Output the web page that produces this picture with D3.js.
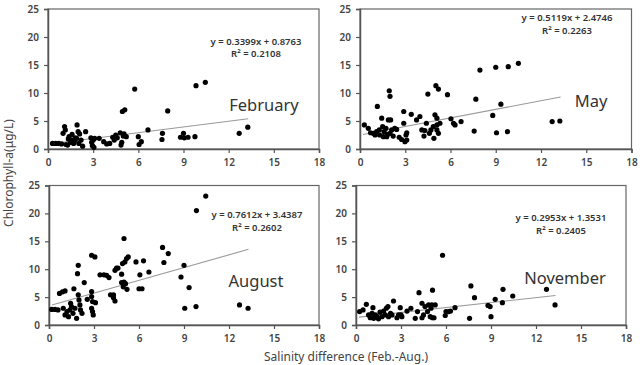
<!DOCTYPE html>
<html>
<head>
<meta charset="utf-8">
<script src="https://cdn.jsdelivr.net/npm/d3@7"></script>
<style>
  body { margin: 0; background: #fff; }
  svg { display: block; }
  text { font-family: "Noto Sans", sans-serif; }
</style>
</head>
<body>
<svg id="chart" width="640" height="365"></svg>
<script>
// data
const months = ["February", "May", "August", "November"]
const slopes = [0.3399, 0.5119, 0.7612, 0.2953]
const intercepts = [0.8763, 2.4746, 3.4387, 1.3531]
const rSquared = ["0.2108", "0.2263", "0.2602", "0.2405"]
const fitRange = [0.2, 13.3]
const xTicks = [0, 3, 6, 9, 12, 15, 18]
const yTicks = [0, 5, 10, 15, 20, 25]

const febPoints = [
  [0.3,1.0],[0.5,1.0],[0.7,1.0],[0.9,0.9],[1.0,2.8],[1.1,4.0],[1.15,3.4],[1.2,0.8],
  [1.3,0.7],[1.35,1.8],[1.4,2.2],[1.5,1.2],[1.55,1.6],[1.6,2.6],[1.7,1.0],[1.75,1.4],
  [1.8,2.0],[1.9,1.9],[1.93,4.3],[2.0,3.1],[2.05,1.0],[2.1,2.7],[2.2,1.6],[2.3,0.5],
  [2.5,3.1],[2.85,2.0],[2.9,1.2],[2.95,0.6],[3.0,1.6],[3.05,0.3],[3.1,1.9],[3.4,1.9],
  [3.7,1.3],[3.9,0.9],[4.1,1.0],[4.3,2.1],[4.4,1.6],[4.5,2.5],[4.6,2.0],[4.8,2.9],
  [4.85,0.7],[4.9,1.2],[4.94,6.7],[5.0,2.3],[5.05,2.7],[5.1,7.0],[5.2,2.2],[5.76,10.7],
  [6.0,2.2],[6.05,0.8],[6.2,1.3],[6.64,3.4],[7.6,2.8],[7.57,1.7],[7.95,6.8],[8.8,2.1],
  [9.0,2.8],[9.05,2.0],[9.3,2.1],[9.76,2.2],[9.83,11.3],[10.45,11.9],[12.7,2.8],[13.27,3.9]
]
const mayPoints = [
  [0.29,4.3],[0.55,3.7],[0.7,2.9],[0.88,2.8],[1.0,2.5],[1.1,3.1],[1.15,7.6],[1.28,3.4],
  [1.3,2.5],[1.44,5.5],[1.5,4.0],[1.55,2.2],[1.6,3.1],[1.72,3.7],[1.77,2.2],[1.83,2.6],
  [1.94,10.4],[1.99,9.4],[1.88,5.2],[2.03,5.2],[1.99,2.8],[2.1,3.4],[2.2,2.3],[2.3,3.7],
  [2.43,3.5],[2.6,2.1],[2.76,1.7],[2.9,6.7],[2.9,4.6],[3.05,2.5],[3.1,1.6],[2.98,1.3],
  [3.1,2.9],[3.4,6.2],[3.75,5.2],[3.97,5.8],[4.1,3.4],[4.24,2.3],[4.3,3.3],[4.4,4.6],
  [4.5,9.8],[4.6,2.8],[4.7,3.4],[4.86,4.0],[4.9,1.9],[4.97,6.1],[5.03,11.3],[5.1,5.5],
  [5.1,4.3],[5.1,3.4],[5.2,10.7],[5.2,2.8],[5.3,4.6],[5.8,9.7],[6.03,5.4],[6.2,4.6],
  [6.3,4.3],[6.7,4.9],[7.57,3.2],[7.68,8.9],[7.95,14.1],[8.8,6.0],[9.0,14.6],[9.05,2.9],
  [9.34,8.0],[9.83,14.7],[9.78,3.1],[10.5,15.3],[12.74,4.9],[13.25,5.0]
]
const augPoints = [
  [0.18,2.8],[0.4,2.8],[0.6,2.7],[0.7,5.65],[0.9,5.95],[1.07,6.1],[0.95,3.0],[1.07,1.8],
  [1.2,2.4],[1.3,1.5],[1.4,2.7],[1.44,3.9],[1.5,3.3],[1.6,2.1],[1.66,6.5],[1.73,3.0],
  [1.84,1.2],[1.9,9.2],[1.95,10.7],[1.95,5.4],[2.0,4.5],[2.06,3.6],[2.1,2.7],[2.2,2.1],
  [2.35,7.6],[2.55,4.6],[2.84,12.5],[3.06,12.2],[2.84,6.0],[2.84,5.1],[2.9,4.2],[2.84,3.0],
  [2.9,2.4],[2.95,1.8],[3.1,4.0],[3.4,9.0],[3.66,9.0],[3.84,8.9],[4.0,8.5],[4.1,5.4],
  [4.3,5.4],[4.3,4.9],[4.4,4.3],[4.4,9.8],[4.5,10.2],[4.6,10.2],[4.84,9.1],[4.9,11.0],
  [5.0,15.5],[5.06,11.3],[5.0,7.7],[4.84,7.6],[4.95,6.85],[5.1,7.4],[5.2,6.4],[5.17,11.9],
  [5.28,12.2],[5.8,11.3],[6.06,9.0],[6.0,6.5],[6.2,6.5],[6.3,11.5],[6.66,9.5],[7.57,13.9],
  [7.66,11.2],[7.95,12.8],[8.8,8.6],[9.0,10.7],[9.05,3.0],[9.34,6.7],[9.83,20.5],[10.45,23.1],
  [9.8,3.3],[12.7,3.6],[13.27,3.0]
]
const novPoints = [
  [0.24,2.4],[0.47,2.7],[0.69,3.7],[0.84,1.8],[0.95,1.3],[1.07,2.1],[1.13,3.1],[1.18,1.2],
  [1.29,1.8],[1.4,1.5],[1.5,1.1],[1.6,2.3],[1.73,1.5],[1.84,2.5],[1.95,1.8],[2.02,3.0],
  [2.13,3.3],[2.17,1.5],[2.3,2.1],[2.4,1.8],[2.5,4.3],[2.73,1.3],[2.84,1.8],[2.95,3.1],
  [3.0,1.8],[3.06,1.5],[3.4,2.5],[3.66,3.0],[3.95,1.2],[4.1,2.4],[4.2,5.8],[4.4,3.9],
  [4.4,1.3],[4.5,1.8],[4.6,3.3],[4.77,2.4],[4.84,3.6],[4.95,1.5],[5.0,3.0],[5.06,3.6],
  [5.1,6.25],[5.1,1.3],[5.28,3.6],[5.2,1.3],[5.77,12.5],[5.95,1.7],[6.0,2.4],[6.17,2.4],
  [6.3,2.5],[6.6,3.1],[7.57,1.2],[7.66,7.0],[7.9,4.9],[8.8,3.5],[8.94,3.3],[9.0,1.5],
  [9.28,4.6],[9.8,6.4],[9.76,4.0],[10.45,5.2],[12.7,6.4],[13.27,3.6]
]
const seriesPoints = [febPoints, mayPoints, augPoints, novPoints]

// layout of the four panels (pixels)
const panels = [
  { l: 48, r: 319, t: 9, b: 149, eq: [256, 44.5, 57], lab: [264, 111] },
  { l: 360, r: 631.5, t: 9, b: 149, eq: [567, 21, 34], lab: [591, 106.5] },
  { l: 49, r: 319, t: 185.5, b: 325, eq: [257, 218, 231], lab: [256, 286.5] },
  { l: 356, r: 626, t: 185.5, b: 325, eq: [561, 221, 233.5], lab: [565, 284] }
]

const svg = d3.select("#chart")

panels.forEach((p, i) => {
  const x = d3.scaleLinear().domain([0, 18]).range([p.l, p.r])
  const y = d3.scaleLinear().domain([0, 25]).range([p.b, p.t])
  const g = svg.append("g")

  // plot frame
  g.append("rect")
    .attr("x", p.l).attr("y", p.t)
    .attr("width", p.r - p.l).attr("height", p.b - p.t)
    .attr("fill", "none").attr("stroke", "#666").attr("stroke-width", 1.2)

  const xAxis = g.append("g")
    .attr("transform", `translate(0,${p.b})`)
    .call(d3.axisBottom(x).tickValues(xTicks).tickSize(4).tickPadding(6))
  const yAxis = g.append("g")
    .attr("transform", `translate(${p.l},0)`)
    .call(d3.axisLeft(y).tickValues(yTicks).tickSize(4).tickPadding(5))
  ;[xAxis, yAxis].forEach(a => {
    a.select(".domain").attr("stroke", "#555").attr("stroke-width", 1.5)
    a.selectAll(".tick line").attr("stroke", "#555").attr("stroke-width", 1.2)
    a.selectAll("text").attr("fill", "#444").attr("font-size", 10)
      .attr("font-weight", 600)
      .attr("font-family", "'Noto Sans', sans-serif")
  })

  // fitted line
  const fit = fitRange.map(v => [v, slopes[i] * v + intercepts[i]])
  g.append("path")
    .attr("d", d3.line().x(d => x(d[0])).y(d => y(d[1]))(fit))
    .attr("stroke", "#9a9a9a").attr("stroke-width", 1.1).attr("fill", "none")

  g.selectAll("circle")
    .data(seriesPoints[i])
    .join("circle")
    .attr("cx", d => x(d[0]))
    .attr("cy", d => y(d[1]))
    .attr("r", 2.6)
    .attr("fill", "#000")

  g.append("text")
    .attr("x", p.eq[0]).attr("y", p.eq[1])
    .attr("text-anchor", "middle").attr("font-size", 9.5).attr("font-weight", 600).attr("fill", "#333")
    .text(`y = ${slopes[i]}x + ${intercepts[i]}`)
  g.append("text")
    .attr("x", p.eq[0]).attr("y", p.eq[2])
    .attr("text-anchor", "middle").attr("font-size", 9.5).attr("font-weight", 600).attr("fill", "#333")
    .text(`R² = ${rSquared[i]}`)

  g.append("text")
    .attr("x", p.lab[0]).attr("y", p.lab[1])
    .attr("text-anchor", "middle").attr("font-size", 16.5).attr("fill", "#333")
    .text(months[i])
})

svg.append("text")
  .attr("transform", "translate(13,173) rotate(-90)")
  .attr("text-anchor", "middle").attr("font-size", 12).attr("fill", "#444")
  .text("Chlorophyll-a(μg/L)")

svg.append("text")
  .attr("x", 346).attr("y", 361)
  .attr("text-anchor", "middle").attr("font-size", 12).attr("fill", "#444")
  .text("Salinity difference (Feb.-Aug.)")
</script>
</body>
</html>
